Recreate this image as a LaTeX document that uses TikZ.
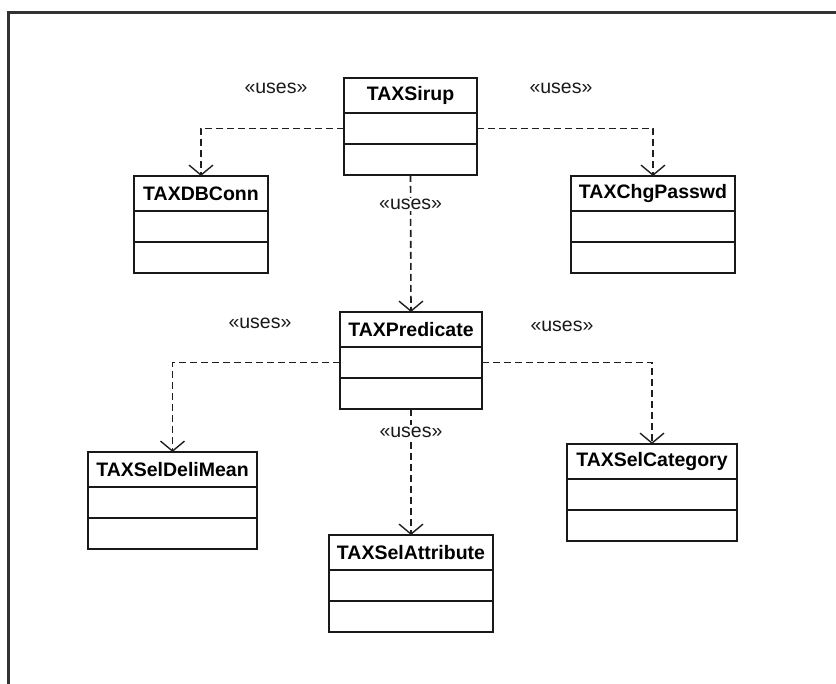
\documentclass[tikz,border=0pt]{standalone}
\usepackage{fontspec}
\setmainfont{Liberation Sans}
\usetikzlibrary{arrows.meta}

% A UML class: title compartment plus two empty compartments stacked below it
% #1 name, #2 centre x, #3 top y, #4 width, #5 class name
\newcommand{\umlclass}[5]{%
  \node[ctitle, minimum width=#4] (#1) at (#2,#3+17.5) {#5};
  \node[ccomp, minimum width=#4, anchor=north] (#1-a) at (#1.south) {};
  \node[ccomp, minimum width=#4, anchor=north] (#1-o) at (#1-a.south) {};
}

\tikzset{
  ink/.style={draw=black!90},
  ctitle/.style={ink, line width=2pt, fill=white, minimum height=35pt,
    outer sep=0pt, inner sep=0pt,
    font=\fontsize{19.5}{22}\selectfont\bfseries},
  ccomp/.style={ink, line width=2pt, fill=white, minimum height=31pt,
    outer sep=0pt, inner sep=0pt},
  uses/.style={draw=black!88, line width=1.6pt, dash pattern=on 7pt off 4pt,
    -{Straight Barb[length=10pt,width=24pt,line width=1.4pt]}},
  stereo/.style={font=\fontsize{19.5}{22}\selectfont, text=black!90,
    inner sep=1.5pt},
  frame/.style={draw=black!80, line width=3pt},
}

\begin{document}
\begin{tikzpicture}[x=1pt, y=-1pt]
  \useasboundingbox[fill=white] (0,0) rectangle (836,684);

  % outer frame (top and left edges)
  \draw[frame] (8,690) -- (8,13) -- (842,13);

  % classes
  \umlclass{sirup}{410.5}{78}{133}{TAXSirup}
  \umlclass{dbconn}{201}{176}{134}{TAXDBConn}
  \umlclass{chgpw}{653}{176}{164}{TAXChgPasswd}
  \umlclass{pred}{411}{312}{142}{TAXPredicate}
  \umlclass{deli}{172.5}{452}{169}{TAXSelDeliMean}
  \umlclass{attr}{411}{535}{164}{TAXSelAttribute}
  \umlclass{cat}{652}{444}{170}{TAXSelCategory}

  % dependencies
  \draw[uses] (sirup-a.west) -| (dbconn.north);
  \draw[uses] (sirup-a.east) -| (chgpw.north);
  \draw[uses] (sirup-o.south) -- (pred.north)
    node[stereo, fill=white, pos=0.215] (u3) {«uses»};
  \draw[uses] (pred-a.west) -| (deli.north);
  \draw[uses] (pred-a.east) -| (cat.north);
  \draw[uses] (pred-o.south) -- (attr.north)
    node[stereo, fill=white, pos=0.185] (u6) {«uses»};

  % stereotype labels beside the connectors
  \node[stereo] (u1) at (276,88) {«uses»};
  \node[stereo] (u2) at (561,88) {«uses»};
  \node[stereo] (u4) at (260,323) {«uses»};
  \node[stereo] (u5) at (562,326) {«uses»};
\end{tikzpicture}
\end{document}
